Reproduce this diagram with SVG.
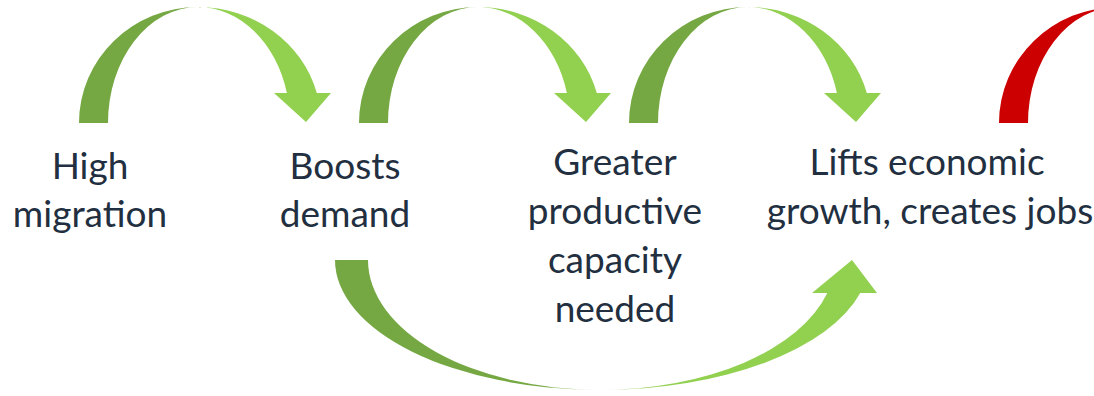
<svg xmlns="http://www.w3.org/2000/svg" width="1094" height="396" viewBox="0 0 1094 396">
  <style>
    .label { font-family: Lato, "Noto Sans", "Liberation Sans", sans-serif; font-size: 37px; fill: #222f40; text-anchor: middle; }
  </style>
  <defs>
    <!-- dark-to-light green, switching at the apex (local x = 0) -->
    <linearGradient id="topGreen" gradientUnits="userSpaceOnUse" x1="-6" y1="0" x2="6" y2="0">
      <stop offset="0" stop-color="#75a843"/>
      <stop offset="1" stop-color="#92d050"/>
    </linearGradient>
    <linearGradient id="bottomGreen" gradientUnits="userSpaceOnUse" x1="560" y1="0" x2="640" y2="0">
      <stop offset="0" stop-color="#75a843"/>
      <stop offset="1" stop-color="#92d050"/>
    </linearGradient>
    <!-- curved-down arrow, apex at local (0,7), base line y = 123 -->
    <g id="curvedDown">
      <path d="M -119,123 A 119 116 0 0 1 0,7 A 90 116 0 0 0 -90,123 Z"/>
      <path d="M 0,7 A 123 116 0 0 1 118.8,93 L 133,93 L 108,122 L 76,93 L 88.9,93 A 92 116 0 0 0 0,7 Z"/>
    </g>
  </defs>

  <g id="connectors">
    <g id="arrow-migration-demand" transform="translate(198,0)" fill="url(#topGreen)">
      <use href="#curvedDown"/>
    </g>
    <g id="arrow-demand-capacity" transform="translate(478,0)" fill="url(#topGreen)">
      <use href="#curvedDown"/>
    </g>
    <g id="arrow-capacity-growth" transform="translate(748,0)" fill="url(#topGreen)">
      <use href="#curvedDown"/>
    </g>
    <g id="arrow-growth-next" transform="translate(1118,0)" fill="#cc0000">
      <path d="M -119,123 A 119 116 0 0 1 0,7 A 90 116 0 0 0 -90,123 Z"/>
    </g>
    <g id="arrow-demand-growth" fill="url(#bottomGreen)">
      <path d="M 335,260 A 265 130 0 0 0 600,390 A 232 130 0 0 1 368,260 Z"/>
      <path d="M 600,390 A 269 130 0 0 0 860.2,293 L 877,293 L 852,260 L 812,293 L 827.3,293 A 235 130 0 0 1 600,390 Z"/>
    </g>
  </g>

  <g id="node-high-migration">
    <text class="label" x="90" y="179">High</text>
    <text class="label" x="90" y="227">migration</text>
  </g>
  <g id="node-boosts-demand">
    <text class="label" x="345" y="179">Boosts</text>
    <text class="label" x="345" y="227">demand</text>
  </g>
  <g id="node-productive-capacity">
    <text class="label" x="615" y="175">Greater</text>
    <text class="label" x="615" y="224">productive</text>
    <text class="label" x="615" y="273">capacity</text>
    <text class="label" x="615" y="322">needed</text>
  </g>
  <g id="node-economic-growth">
    <text class="label" x="927" y="175">Lifts economic</text>
    <text class="label" x="930" y="224">growth, creates jobs</text>
  </g>
</svg>
